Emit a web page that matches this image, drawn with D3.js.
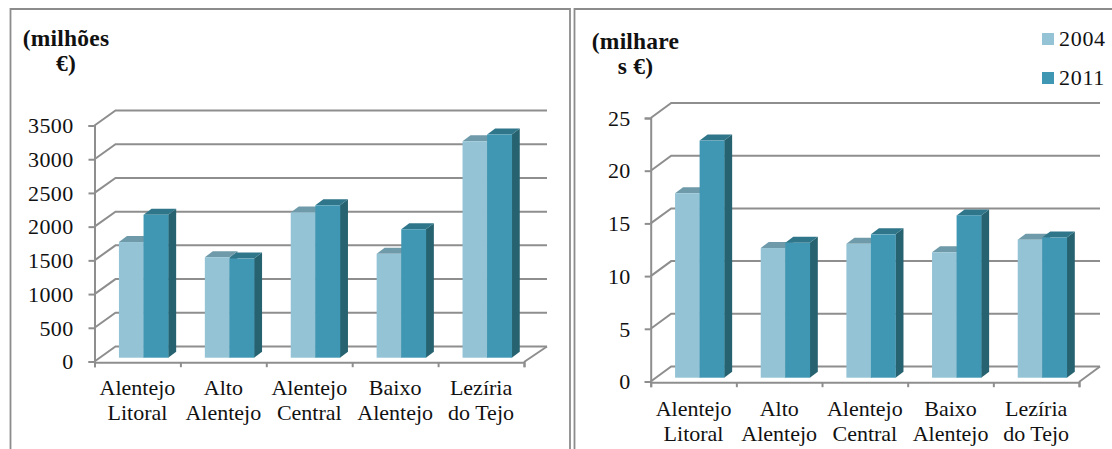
<!DOCTYPE html>
<html><head><meta charset="utf-8">
<style>html,body{margin:0;padding:0;background:#fff}svg{display:block}text{font-family:"Liberation Serif",serif;fill:#111}</style>
<script src="https://cdn.jsdelivr.net/npm/d3@7/dist/d3.min.js"></script>
</head><body><svg id="c" width="1112" height="449"></svg>
<script>
const categories=[["Alentejo","Litoral"],["Alto","Alentejo"],["Alentejo","Central"],["Baixo","Alentejo"],["Lezíria","do Tejo"]];
const years=["2004","2011"];
const gdp2004=[1715,1490,2155,1540,3210];
const gdp2011=[2120,1470,2260,1905,3310];
const perCap2004=[17.5,12.3,12.7,11.9,13.1];
const perCap2011=[22.5,12.8,13.6,15.4,13.3];
const leftTicks=[0,500,1000,1500,2000,2500,3000,3500];
const rightTicks=[0,5,10,15,20,25];
const colors={front:["#93c3d5","#4097b3"],top:["#6e9aa9","#30768a"],side:["#3f7d90","#26626f"]};
const GRID="#8e8e8e",FS=22;
const svg=d3.select("#c");

// panel frames
const frame=svg.append("g").attr("fill","none").attr("stroke","#8c8c8c").attr("stroke-width",1.8);
frame.append("path").attr("d",d3.line()([[10.5,449],[10.5,9],[570,9],[570,449]]));
frame.append("path").attr("d",d3.line()([[574.5,449],[574.5,9],[1112,9]]));

function panel(o){
  const g=svg.append("g");
  const x=d3.scaleBand().domain(d3.range(categories.length)).range([o.left,o.right]);
  const y=d3.scaleLinear().domain([0,o.max]).range([o.bottom,o.top]);
  const depth={dx:o.dx,dy:-15};
  // back gridlines + diagonals
  const grid=g.append("g").attr("fill","none").attr("stroke",GRID).attr("stroke-width",2);
  o.ticks.forEach(t=>{
    grid.append("path").attr("d",d3.line()([[o.left,y(t)],[o.left+depth.dx,y(t)+depth.dy],[o.backRight,y(t)+depth.dy]]));
  });
  grid.append("path").attr("d",d3.line()([[o.backRight,y(0)+depth.dy],[o.right,y(0)+0.5]]));
  // bars
  const barW=x.bandwidth()*0.2865, bx=x.bandwidth()*0.2845, sd=8, st=6, lift=3.8;
  [0,1].forEach(s=>{
    const vals=o.series[s];
    const bars=g.append("g").selectAll("g").data(vals).join("g");
    const X=(d,i)=>x(i)+bx+s*barW;
    const T=d=>y(d)-lift;
    const B=y(0)-lift;
    bars.append("path").attr("fill",colors.side[s]).attr("d",(d,i)=>d3.line()([[X(d,i)+barW,T(d)],[X(d,i)+barW+sd,T(d)-st],[X(d,i)+barW+sd,B-st],[X(d,i)+barW,B]]));
    bars.append("path").attr("fill",colors.top[s]).attr("d",(d,i)=>d3.line()([[X(d,i),T(d)],[X(d,i)+sd,T(d)-st],[X(d,i)+barW+sd,T(d)-st],[X(d,i)+barW,T(d)]]));
    bars.append("rect").attr("fill",colors.front[s]).attr("x",X).attr("y",T).attr("width",barW+0.3).attr("height",d=>B-T(d));
  });
  // axes
  const ya=g.append("g").attr("transform",`translate(${o.left},0)`).call(d3.axisLeft(y).tickValues(o.ticks).tickSize(6).tickPadding(o.pad).tickFormat(d3.format("d")));
  const xa=g.append("g").attr("transform",`translate(0,${o.bottom+0.7})`).call(d3.axisBottom(d3.scaleLinear().domain([0,categories.length]).range([o.left,o.right])).tickValues(d3.range(categories.length+1)).tickSize(5).tickFormat(""));
  [ya,xa].forEach(a=>{a.selectAll("path,line").attr("stroke",GRID).attr("stroke-width",2);a.select(".domain").attr("fill","none");});
  ya.selectAll("text").attr("font-size",FS).attr("font-family","Liberation Serif").attr("letter-spacing",0.35).style("fill","#111").attr("dy","0.33em");
  // category labels
  g.append("g").selectAll("text").data(categories).join("text")
    .attr("text-anchor","middle").attr("font-size",FS)
    .attr("transform",(d,i)=>`translate(${x(i)+x.bandwidth()/2},${o.labelY})`)
    .selectAll("tspan").data(d=>d).join("tspan").attr("x",0).attr("y",(d,i)=>i*25).text(d=>d);
  // unit title
  g.append("g").selectAll("text").data(o.title).join("text").attr("text-anchor","middle")
    .attr("font-size",23.5).attr("font-weight","bold").attr("letter-spacing",0.2).attr("x",o.titleX).attr("y",(d,i)=>o.titleY+i*25).text(d=>d);
}
panel({left:94.5,right:524,backRight:547,top:125.5,bottom:361.5,max:3500,ticks:leftTicks,series:[gdp2004,gdp2011],dx:21,pad:15,labelY:395,title:["(milhões","€)"],titleX:66,titleY:46});
panel({left:650.7,right:1079,backRight:1100,top:118,bottom:381.5,max:25,ticks:rightTicks,series:[perCap2004,perCap2011],dx:20.5,pad:14,labelY:416,title:["(milhare","s €)"],titleX:635.5,titleY:49});

// legend
const lg=svg.append("g").selectAll("g").data(years).join("g").attr("transform",(d,i)=>`translate(1042,${33+i*39})`);
lg.append("rect").attr("width",12).attr("height",12).attr("fill",(d,i)=>colors.front[i]);
lg.append("text").attr("x",17).attr("y",12.5).attr("font-size",FS).attr("letter-spacing",0.7).text(d=>d);
</script></body></html>
